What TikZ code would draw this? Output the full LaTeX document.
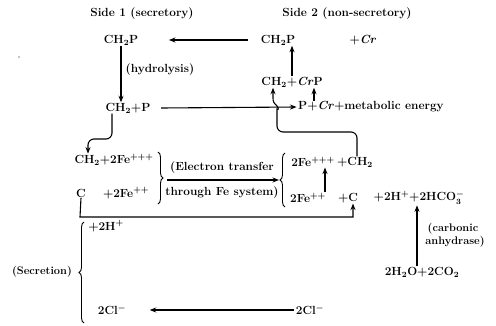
\documentclass[tikz,border=0pt]{standalone}
\usetikzlibrary{arrows.meta,decorations.pathreplacing}
\begin{document}
\begin{tikzpicture}[x=1pt,y=-1pt,
  t/.style={inner sep=0.5pt, font=\fontsize{11.8}{14}\selectfont\bfseries\boldmath},
  ts/.style={inner sep=0.5pt, font=\fontsize{11}{13}\selectfont\bfseries\boldmath},
  arr/.style={line width=1.1pt, -{Stealth[length=6.5pt,width=5pt]}},
  brc/.style={line width=0.9pt, decorate, decoration={brace, amplitude=5pt}}]
\useasboundingbox (0,0) rectangle (496,326);
% stray dot
\fill (19,57) circle (0.7);
% headings
\node[t] (side1) at (142,14) {Side 1 (secretory)};
\node[t] (side2) at (347,14) {Side 2 (non-secretory)};
% top row
\node[t] (ch2pL) at (121,40) {CH$_2$P};
\node[t] (ch2pR) at (278,40) {CH$_2$P};
\node[t] (crR) at (363,40) {+\textit{Cr}};
\node[t] (hyd) at (160,70) {(hydrolysis)};
\node[t] (ch2P) at (128,108) {CH$_2$+P};
\node[t] (ch2crp) at (292,82) {CH$_2$+\textit{Cr}P};
\node[t] (pcr) at (371,107) {P+\textit{Cr}+metabolic energy};
% iron rows
\node[t] (ch2fe3) at (114,160) {CH$_2$+2Fe$^{+++}$};
\node[t] (cL) at (81,193) {C};
\node[t] (fe2L) at (126,193) {+2Fe$^{++}$};
\node[t] (et1) at (222,168) {(Electron transfer};
\node[t] (et2) at (222,193) {through Fe system)};
\node[t] (fe3R) at (313,162) {2Fe$^{+++}$};
\node[t] (ch2R) at (355,162) {+CH$_2$};
\node[t] (fe2R) at (308,198) {2Fe$^{++}$};
\node[t] (cR) at (348,198) {+C};
\node[t] (hco) at (419,198) {+2H$^+$+2HCO$_3^-$};
% secretion
\node[ts] (sec) at (42,272) {(Secretion)};
\node[t] (hL) at (106,226) {+2H$^+$};
\node[t] (clL) at (112,310) {2Cl$^-$};
\node[t] (clR) at (310,310) {2Cl$^-$};
\node[t] (h2o) at (422,272) {2H$_2$O+2CO$_2$};
\node[ts] (carb) at (453,229) {(carbonic};
\node[ts] (anh) at (455,242) {anhydrase)};
% connectors
\draw[arr] ([xshift=-12pt]ch2pR.west) -- ([xshift=30pt]ch2pL.east);
\draw[arr] (ch2pL.south) -- (ch2pL.south |- ch2P.north);
\draw[arr] ([xshift=10pt]ch2P.east) -- ([xshift=-1pt]pcr.west);
\draw[arr] (314,0 |- pcr.north) -- (314,0 |- ch2crp.south);
\draw[arr] (292,0 |- ch2crp.north) -- (292,0 |- ch2pR.south);
\draw[arr, rounded corners=6pt] (357,0 |- ch2R.north) -- (357,132) -- (277,132) -- (277,115)
   [sharp corners] .. controls (277,111) and (280,109) .. (277,106) .. controls (274,103) and (273,102) .. (273,98) -- (273,0 |- ch2crp.south);
\draw[arr, rounded corners=6pt] (112,0 |- ch2P.south) -- (112,139) -- (88,139) -- (88,0 |- ch2fe3.north);
\draw[brc] (158,152) -- (158,204);
\coordinate (etA) at (167,180);
\coordinate (etB) at (279,180);
\draw[arr] (etA) -- (etB);
\draw[brc] (285,207) -- (285,153);
\draw[arr] (325,0 |- fe2R.north) -- (325,0 |- fe3R.south);
\draw[arr] (cL.south) -- (80,217) -- (353,217) -- (353,0 |- cR.south);
\draw[brc] (84,323) -- (84,222);
\draw[arr] ([xshift=-1pt]clR.west) -- ([xshift=23pt]clL.east);
\draw[arr] (417,0 |- h2o.north) -- (417,0 |- hco.south);
\end{tikzpicture}
\end{document}
